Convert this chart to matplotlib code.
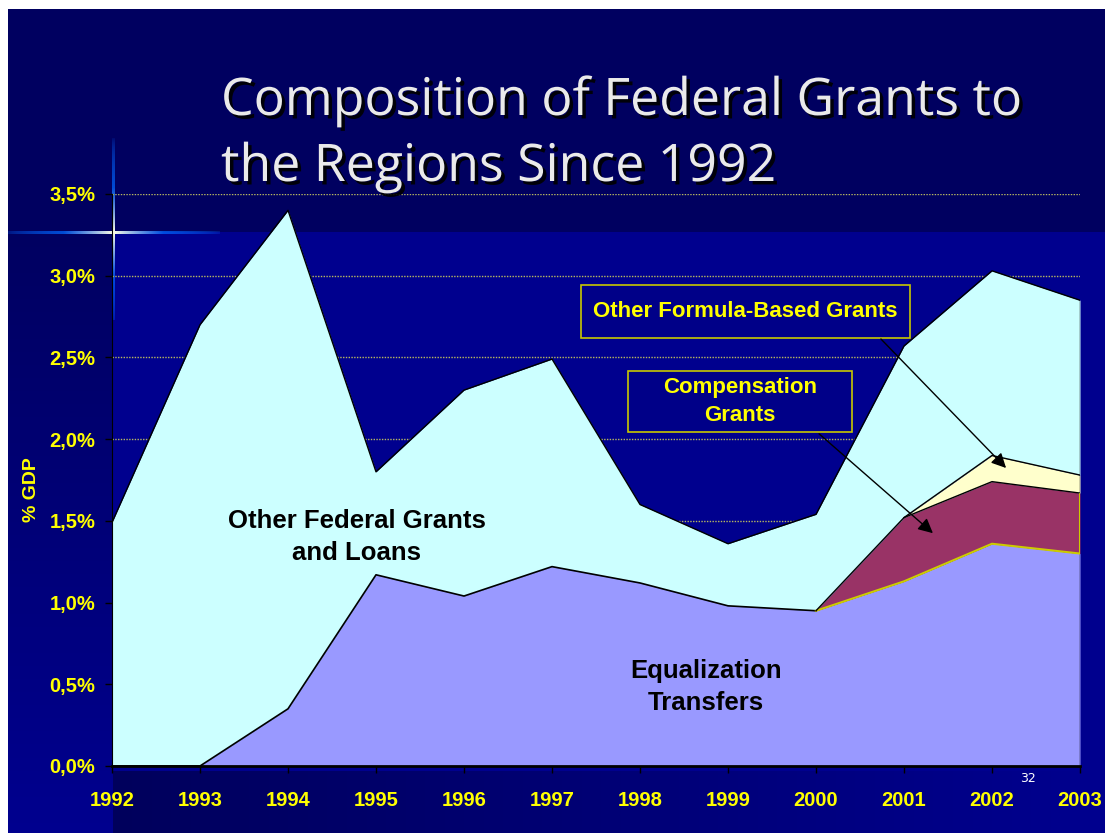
import numpy as np
import matplotlib
matplotlib.use("Agg")
import matplotlib.pyplot as plt
import matplotlib.patheffects as pe
from matplotlib.patches import Rectangle, FancyArrowPatch

# dados (% do PIB)
anos = [1992, 1993, 1994, 1995, 1996, 1997, 1998, 1999, 2000, 2001, 2002, 2003]
equalizacao = [0.00, 0.00, 0.35, 1.17, 1.04, 1.22, 1.12, 0.98, 0.95, 1.13, 1.36, 1.30]
compensacao = [0.00, 0.00, 0.00, 0.00, 0.00, 0.00, 0.00, 0.00, 0.00, 0.39, 0.38, 0.37]
outras_formula = [0.00, 0.00, 0.00, 0.00, 0.00, 0.00, 0.00, 0.00, 0.00, 0.00, 0.16, 0.11]
outras_federais = [1.49, 2.70, 3.05, 0.63, 1.26, 1.27, 0.48, 0.38, 0.59, 1.05, 1.13, 1.07]

yticks = [0, 0.5, 1.0, 1.5, 2.0, 2.5, 3.0, 3.5]
ylabels = ['0,0%', '0,5%', '1,0%', '1,5%', '2,0%', '2,5%', '3,0%', '3,5%']
xlabels = [str(a) for a in anos]

W, H = 1105, 833
fig = plt.figure(figsize=(W / 100, H / 100), dpi=100, facecolor='white')


def px(x, y):
    # pixel (origem no topo) -> coordenadas da figura
    return x / W, 1 - y / H


# fundo do slide
yy, xx = np.mgrid[0:H, 0:W]
img = np.ones((H, W, 3))
escuro = np.array([0.0, 0.0, 0.38])
claro = np.array([0.0, 0.0, 0.56])
slide = (xx >= 8) & (yy >= 9)
img[slide & (yy < 232)] = escuro
principal = slide & (yy >= 232)
img[principal] = claro
esq = principal & (xx < 113)
t = (yy[esq] - 232) / (H - 232)
img[esq] = escuro + (claro - escuro) * t[:, None]
baixo = principal & (xx >= 113) & (yy > 770)
t = (xx[baixo] - 113) / (W - 113)
img[baixo] = escuro * 0.95 + (claro - escuro * 0.95) * t[:, None]

# brilho (estrela) no canto
cor_azul = np.array([0.0, 0.4, 1.0])
branco = np.array([1.0, 1.0, 0.9])
v = slide & (np.abs(xx - 113) <= 1) & (yy > 30) & (yy < 320)
d = np.abs(yy[v] - 232)
a = np.clip(1 - d / 95, 0, 1)[:, None] ** 0.5
c = cor_azul + (branco - cor_azul) * np.clip(1 - d / 45, 0, 1)[:, None]
img[v] = img[v] * (1 - a) + c * a
h = slide & (np.abs(yy - 232) <= 1) & (xx < 220)
d = np.abs(xx[h] - 113)
a = np.clip(1 - d / 110, 0, 1)[:, None] ** 0.5
c = cor_azul + (branco - cor_azul) * np.clip(1 - d / 50, 0, 1)[:, None]
img[h] = img[h] * (1 - a) + c * a

bg = fig.add_axes([0, 0, 1, 1])
bg.imshow(img, extent=[0, W, H, 0], aspect='auto', interpolation='nearest')
bg.set_xlim(0, W)
bg.set_ylim(H, 0)
bg.axis('off')

# grafico de area empilhada
ax = fig.add_axes([112 / W, 67 / H, 968 / W, 572 / H])
ax.patch.set_alpha(0)

base = np.zeros(len(anos))
camadas = [equalizacao, compensacao, outras_formula, outras_federais]
cores = ['#9999FF', '#993366', '#FFFFCC', '#CCFFFF']
topos = []
for valores, cor in zip(camadas, cores):
    topo = base + np.array(valores)
    ax.fill_between(anos, base, topo, color=cor, lw=0, zorder=2)
    topos.append(topo)
    base = topo

ax.plot(anos[:9], topos[0][:9], color='black', lw=1.2, zorder=3)
ax.plot(anos[8:], topos[0][8:], color='#CCCC00', lw=1.5, zorder=3)
ax.plot(anos[8:], topos[1][8:], color='black', lw=1.0, zorder=3)
ax.plot(anos[9:], topos[2][9:], color='black', lw=1.0, zorder=3)
ax.plot(anos, topos[3], color='black', lw=1.0, zorder=3)
ax.vlines(anos[-1], topos[0][-1], topos[1][-1], color='#CCCC00', lw=1.5, zorder=3)
ax.vlines(anos[-1], topos[1][-1], topos[3][-1], color='black', lw=1.0, zorder=3)
ax.vlines(anos[-1], 0, topos[0][-1], color='black', lw=1.0, zorder=3)

ax.set_xlim(1992, 2003)
ax.set_ylim(0, 3.5)
ax.set_yticks(yticks)
ax.set_yticklabels(ylabels)
ax.set_xticks(anos)
ax.set_xticklabels(xlabels)
ax.yaxis.grid(True, color='#B8B860', linestyle=(0, (1, 1)), lw=1)
ax.set_axisbelow(True)
for s in ['top', 'right']:
    ax.spines[s].set_visible(False)
ax.spines['left'].set_color('black')
ax.spines['bottom'].set_color('black')
ax.spines['bottom'].set_linewidth(2)
ax.spines['bottom'].set_zorder(4)
ax.tick_params(axis='both', colors='black', length=5, width=1, direction='out')
ax.tick_params(axis='x', pad=13)
ax.tick_params(axis='y', pad=7)
for lab in ax.get_xticklabels() + ax.get_yticklabels():
    lab.set_color('yellow')
    lab.set_fontfamily('Liberation Sans')
    lab.set_fontweight('bold')
    lab.set_fontsize(14.5)

fig.text(*px(32, 490), '% GDP', rotation=90, color='yellow', fontsize=14,
         fontweight='bold', family='Liberation Sans', ha='center', va='center')

# titulo
sombra = [pe.withSimplePatchShadow(offset=(2.5, -2.5), shadow_rgbFace='black', alpha=0.9)]
fig.text(*px(221, 115), 'Composition of Federal Grants to', color='#EAEAEA',
         fontsize=37.3, family='Open Sans', va='baseline', path_effects=sombra)
fig.text(*px(221, 181), 'the Regions Since 1992', color='#EAEAEA',
         fontsize=37.3, family='Open Sans', va='baseline', path_effects=sombra)

# rotulos das areas
fig.text(*px(357, 537), 'Other Federal Grants\nand Loans', color='black', fontsize=18.5,
         fontweight='bold', family='Liberation Sans', ha='center', va='center',
         linespacing=1.4, zorder=5)
fig.text(*px(706, 687), 'Equalization\nTransfers', color='black', fontsize=18.5,
         fontweight='bold', family='Liberation Sans', ha='center', va='center',
         linespacing=1.4, zorder=5)

# caixas de legenda
for (x0, y0, x1, y1), texto in [((581, 285, 910, 338), 'Other Formula-Based Grants'),
                                ((628, 371, 852, 432), 'Compensation\nGrants')]:
    fx0, fy1 = px(x0, y1)
    fx1, fy0 = px(x1, y0)
    fig.patches.append(Rectangle((fx0, fy1), fx1 - fx0, fy0 - fy1, transform=fig.transFigure,
                                 facecolor='#000088', edgecolor='#C8C800', lw=1.2, zorder=6))
    fig.text((fx0 + fx1) / 2, (fy0 + fy1) / 2, texto, color='yellow', fontsize=16,
             fontweight='bold', family='Liberation Sans', ha='center', va='center',
             linespacing=1.45, zorder=7)

# setas
for (x0, y0), (x1, y1) in [((879, 337), (1008, 470)), ((817, 432), (935, 535))]:
    fig.add_artist(FancyArrowPatch(
        px(x0, y0), px(x1, y1), transform=fig.transFigure, arrowstyle='-|>',
        mutation_scale=22, color='black', lw=1, zorder=8))

fig.text(*px(1028, 778), '32', color='white', fontsize=9, family='DejaVu Sans',
         ha='center', va='center')

fig.savefig('out.png', dpi=100, facecolor='white')
